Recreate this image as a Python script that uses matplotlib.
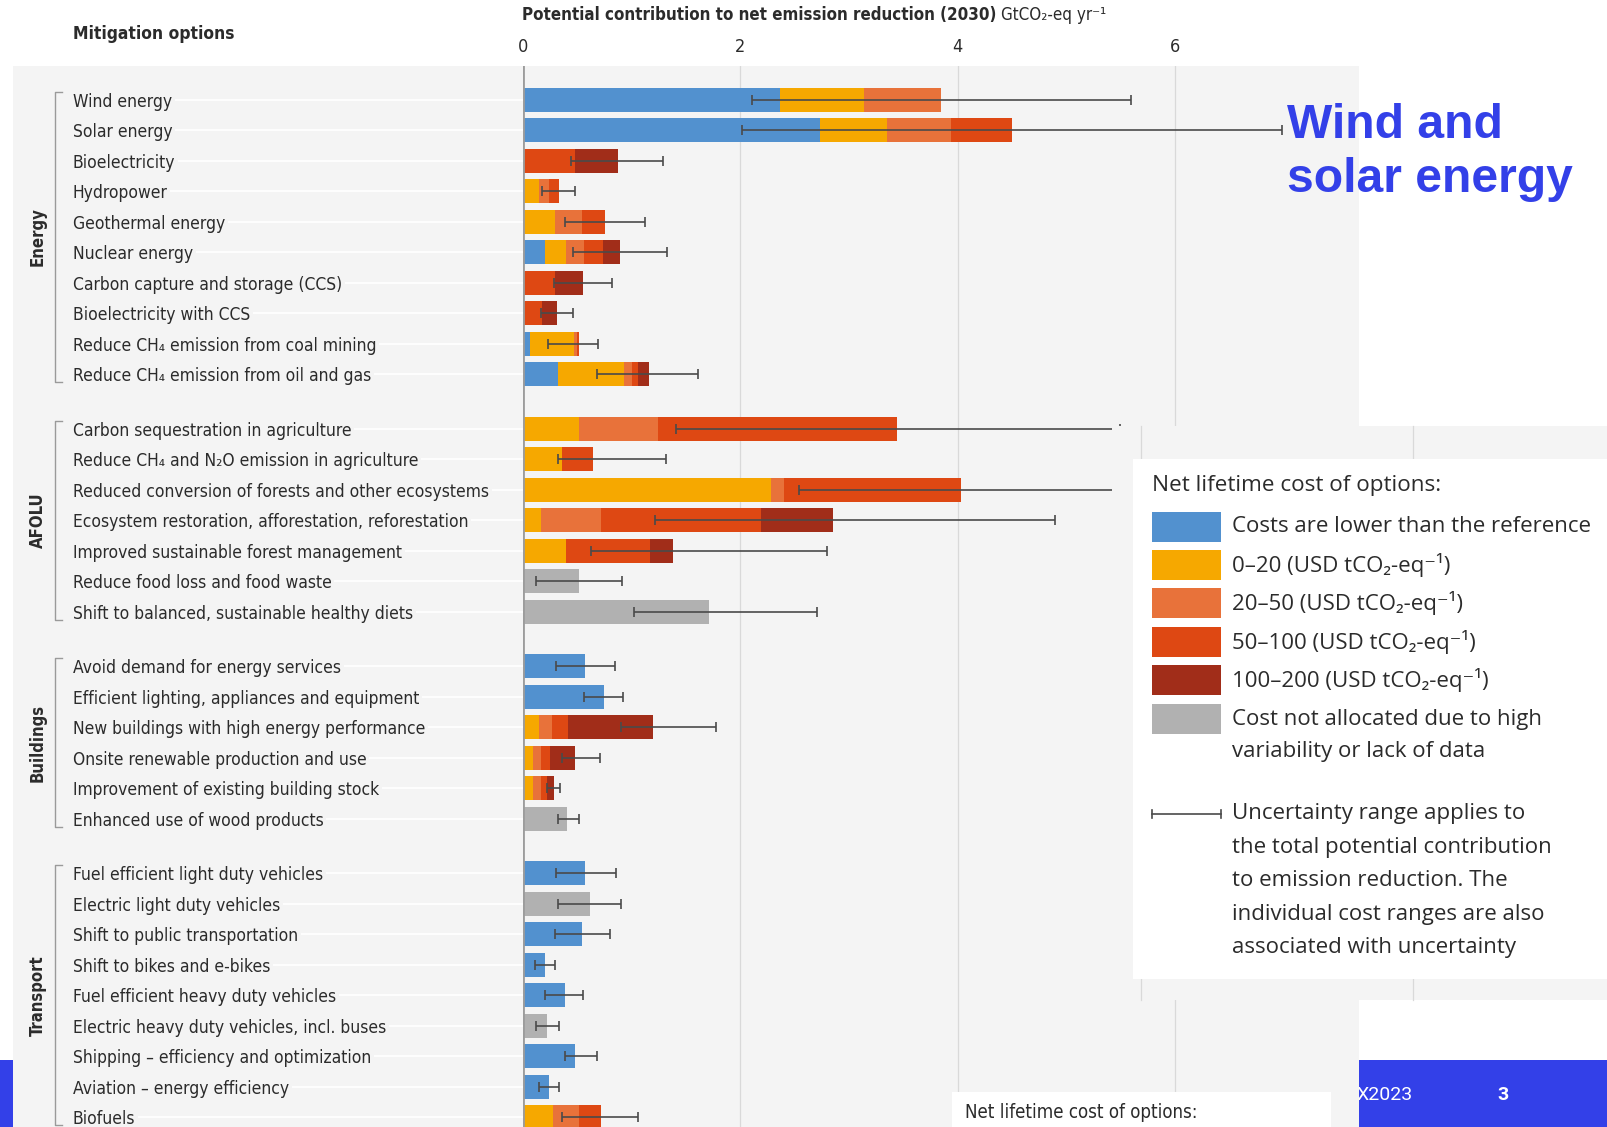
import numpy as np
import matplotlib
matplotlib.use('Agg')
import matplotlib.pyplot as plt
from matplotlib import font_manager as fm
from matplotlib.patches import Rectangle
from matplotlib.lines import Line2D

# ---- data: potential contribution to net emission reduction (2030), GtCO2-eq/yr ----
energy_labels = ['Wind energy', 'Solar energy', 'Bioelectricity', 'Hydropower',
                 'Geothermal energy', 'Nuclear energy', 'Carbon capture and storage (CCS)',
                 'Bioelectricity with CCS', 'Reduce CH\u2084 emission from coal mining',
                 'Reduce CH\u2084 emission from oil and gas']
afolu_labels = ['Carbon sequestration in agriculture',
                'Reduce CH\u2084 and N\u2082O emission in agriculture',
                'Reduced conversion of forests and other ecosystems',
                'Ecosystem restoration, afforestation, reforestation',
                'Improved sustainable forest management',
                'Reduce food loss and food waste',
                'Shift to balanced, sustainable healthy diets']
buildings_labels = ['Avoid demand for energy services',
                    'Efficient lighting, appliances and equipment',
                    'New buildings with high energy performance',
                    'Onsite renewable production and use',
                    'Improvement of existing building stock',
                    'Enhanced use of wood products']
transport_labels = ['Fuel efficient light duty vehicles', 'Electric light duty vehicles',
                    'Shift to public transportation', 'Shift to bikes and e-bikes',
                    'Fuel efficient heavy duty vehicles',
                    'Electric heavy duty vehicles, incl. buses',
                    'Shipping \u2013 efficiency and optimization',
                    'Aviation \u2013 energy efficiency', 'Biofuels']
group_names = ['Energy', 'AFOLU', 'Buildings', 'Transport']

# width of each cost band per option
lower_cost = [2.36, 2.73, 0, 0, 0, 0.20, 0, 0, 0.06, 0.32,
              0, 0, 0, 0, 0, 0, 0,
              0.57, 0.74, 0, 0, 0, 0,
              0.57, 0, 0.54, 0.20, 0.38, 0, 0.48, 0.24, 0]
usd_0_20 = [0.78, 0.62, 0, 0.14, 0.29, 0.19, 0, 0, 0.41, 0.61,
            0.51, 0.36, 2.28, 0.16, 0.39, 0, 0,
            0, 0, 0.14, 0.09, 0.09, 0,
            0, 0, 0, 0, 0, 0, 0, 0, 0.27]
usd_20_50 = [0.71, 0.59, 0, 0.10, 0.25, 0.17, 0, 0, 0.02, 0.07,
             0.73, 0, 0.12, 0.56, 0, 0, 0,
             0, 0, 0.12, 0.07, 0.07, 0,
             0, 0, 0, 0, 0, 0, 0, 0, 0.24]
usd_50_100 = [0, 0.56, 0.48, 0.09, 0.21, 0.17, 0.29, 0.17, 0.02, 0.06,
              2.20, 0.28, 1.63, 1.47, 0.78, 0, 0,
              0, 0, 0.15, 0.09, 0.06, 0,
              0, 0, 0, 0, 0, 0, 0, 0, 0.21]
usd_100_200 = [0, 0, 0.39, 0, 0, 0.16, 0.26, 0.14, 0, 0.10,
               0, 0, 0, 0.66, 0.21, 0, 0,
               0, 0, 0.78, 0.23, 0.06, 0,
               0, 0, 0, 0, 0, 0, 0, 0, 0]
not_allocated = [0, 0, 0, 0, 0, 0, 0, 0, 0, 0,
                 0, 0, 0, 0, 0, 0.51, 1.71,
                 0, 0, 0, 0, 0, 0.40,
                 0, 0.61, 0, 0, 0, 0.22, 0, 0, 0]
err_low = [2.11, 2.01, 0.44, 0.17, 0.38, 0.46, 0.28, 0.16, 0.23, 0.68,
           1.41, 0.32, 2.54, 1.21, 0.62, 0.12, 1.02,
           0.30, 0.56, 0.90, 0.36, 0.22, 0.32,
           0.30, 0.32, 0.29, 0.11, 0.20, 0.12, 0.38, 0.14, 0.36]
err_high = [5.60, 6.99, 1.29, 0.48, 1.12, 1.32, 0.82, 0.46, 0.69, 1.61,
            5.49, 1.31, 6.50, 4.90, 2.80, 0.91, 2.70,
            0.84, 0.92, 1.77, 0.71, 0.34, 0.51,
            0.85, 0.90, 0.80, 0.29, 0.55, 0.33, 0.68, 0.33, 1.06]

x_ticks = [0, 2, 4, 6]

band_colors = ['#5291cf', '#f6a800', '#e8723a', '#de4813', '#a12d19', '#b1b1b1']
legend_labels = ['Costs are lower than the reference',
                 '0\u201320 (USD tCO\u2082-eq\u207b\u00b9)',
                 '20\u201350 (USD tCO\u2082-eq\u207b\u00b9)',
                 '50\u2013100 (USD tCO\u2082-eq\u207b\u00b9)',
                 '100\u2013200 (USD tCO\u2082-eq\u207b\u00b9)',
                 'Cost not allocated due to high\nvariability or lack of data']
uncert_text = ['Uncertainty range applies to', 'the total potential contribution',
               'to emission reduction. The', 'individual cost ranges are also',
               'associated with uncertainty']

PANEL = '#f4f4f4'
GRID = '#d9d9d9'
TXT = '#2b2b2b'
BLUE = '#3340e8'

# fonts: a narrow face for the chart, a humanist one for the key
names = {f.name for f in fm.fontManager.ttflist}
if 'Liberation Sans Narrow' in names:
    NARROW = dict(family=['Liberation Sans Narrow', 'DejaVu Sans'])
    LAB = 14.5
else:
    NARROW = dict(family=['DejaVu Sans'], fontstretch='condensed')
    LAB = 12.5
KEY = dict(family=['Open Sans', 'DejaVu Sans'])

W, H = 1608, 1127
fig = plt.figure(figsize=(W / 100, H / 100), dpi=100)
fig.patch.set_facecolor('white')


def fx(x):
    return x / W


def fy(y):
    return 1 - y / H


def box(x0, y0, x1, y1, color, z):
    fig.add_artist(Rectangle((fx(x0), fy(y1)), (x1 - x0) / W, (y1 - y0) / H,
                             transform=fig.transFigure, facecolor=color,
                             edgecolor='none', zorder=z))


# slide footer and grey chart panel
box(0, 1060, W, H, BLUE, -3)
fig.text(fx(1356), fy(1095), 'X2023', color='white', family='Roboto', fontsize=14,
         va='center', ha='left', zorder=-2.5)
fig.text(fx(1503), fy(1095), '3', color='white', family='Roboto', fontsize=14,
         fontweight='bold', va='center', ha='center', zorder=-2.5)
box(13, 65.6, 1359, H, PANEL, -2)

# row positions with a gap between sectors
groups = [energy_labels, afolu_labels, buildings_labels, transport_labels]
pos = []
spans = []
start = 0.0
for g in groups:
    p = start + np.arange(len(g))
    pos.extend(p)
    spans.append((p[0], p[-1]))
    start = p[-1] + 1.8
pos = np.array(pos)
labels = sum(groups, [])

ROW = 30.45   # px per row
Y0 = 100.0    # px of first row
X0 = 523.3    # px of zero
UNIT = 108.6  # px per GtCO2-eq

ax = fig.add_axes([fx(X0), 0, (1359 - X0) / W, (H - 65.6) / H])
ax.patch.set_alpha(0)
ax.set_xlim(0, (1359 - X0) / UNIT)
ax.set_ylim((H - Y0) / ROW, (65.6 - Y0) / ROW)
for s in ax.spines.values():
    s.set_visible(False)

for v in x_ticks[1:]:
    ax.axvline(v, color=GRID, lw=0.9, zorder=0)
ax.axvline(0, color='#9c9c9c', lw=2.0, zorder=4)

bands = [lower_cost, usd_0_20, usd_20_50, usd_50_100, usd_100_200, not_allocated]
left = np.zeros(len(pos))
for vals, col in zip(bands, band_colors):
    vals = np.array(vals)
    ax.barh(pos, vals, left=left, height=0.79, color=col, linewidth=0, zorder=2)
    left = left + vals

lo = np.array(err_low)
hi = np.array(err_high)
ax.errorbar((lo + hi) / 2, pos, xerr=(hi - lo) / 2, fmt='none', ecolor='#4a4a4a',
            elinewidth=1.2, capsize=3.6, capthick=1.2, zorder=3)

# top tick labels
ax.xaxis.tick_top()
ax.set_xticks(x_ticks, [str(v) for v in x_ticks])
ax.tick_params(axis='x', length=0, pad=7, labelsize=13, labelcolor=TXT)
for t in ax.get_xticklabels():
    t.set(**NARROW)

# option labels as left-aligned y tick labels
ax.set_yticks(pos, labels)
ax.tick_params(axis='y', length=0, pad=(X0 - 72.8) * 0.72, labelsize=LAB, labelcolor=TXT)
for t in ax.get_yticklabels():
    t.set(ha='left', **NARROW)
    t.set_bbox(dict(facecolor=PANEL, edgecolor='none', pad=2))
ax.hlines(pos, (72 - X0) / UNIT, 0, colors='white', lw=1.3, clip_on=False, zorder=1)

# sector brackets
for name, (a, b) in zip(group_names, spans):
    top, bot = a - 0.27, b + 0.27
    ax.plot([(62 - X0) / UNIT, (55 - X0) / UNIT, (55 - X0) / UNIT, (62 - X0) / UNIT],
            [top, top, bot, bot], color='#9a9a9a', lw=1.0, clip_on=False, zorder=1)
    ax.text((38 - X0) / UNIT, (top + bot) / 2, name, rotation=90, ha='center',
            va='center', fontsize=12, fontweight='bold', color=TXT, **NARROW)

# headers
fig.text(fx(72.8), fy(33.8), 'Mitigation options', fontsize=12.5, fontweight='bold',
         color=TXT, va='center', ha='left', **NARROW)
t1 = fig.text(fx(522), fy(15.4), 'Potential contribution to net emission reduction (2030)',
              fontsize=12.2, fontweight='bold', color=TXT, va='center', ha='left', **NARROW)
r = fig.canvas.get_renderer()
bb = t1.get_window_extent(r)
fig.text(fx(bb.x1 + 5), fy(15.4), 'GtCO\u2082-eq yr\u207b\u00b9', fontsize=12.2, color=TXT,
         va='center', ha='left', **NARROW)

# big blue callout
fig.text(fx(1287), fy(138), 'Wind and', color=BLUE, family='Liberation Sans',
         fontweight='bold', fontsize=34.6, va='baseline', ha='left', zorder=9)
fig.text(fx(1287), fy(192), 'solar energy', color=BLUE, family='Liberation Sans',
         fontweight='bold', fontsize=34.6, va='baseline', ha='left', zorder=9)

# pasted key panel on the right
box(1112, 425.6, W, 1000, PANEL, 5)
for gx in [1141, 1413]:
    fig.add_artist(Line2D([fx(gx), fx(gx)], [fy(425.6), fy(1000)], transform=fig.transFigure,
                          color=GRID, lw=0.9, zorder=5.1))
box(1133, 459, W, 979, 'white', 6)

fig.text(fx(1151.6), fy(486), 'Net lifetime cost of options:', fontsize=16.2, color=TXT,
         va='center', ha='left', zorder=7, **KEY)
key_y = [527, 565, 603, 642, 680, 719]
for yy, col, lab in zip(key_y, band_colors, legend_labels):
    box(1151.6, yy - 15, 1221, yy + 15, col, 7)
    for i, line in enumerate(lab.split('\n')):
        fig.text(fx(1231.6), fy(yy + i * 33), line, fontsize=16, color=TXT,
                 va='center', ha='left', zorder=7, **KEY)

uy = 814
fig.add_artist(Line2D([fx(1151.6), fx(1221)], [fy(uy), fy(uy)], transform=fig.transFigure,
                      color='#4a4a4a', lw=1.2, zorder=7))
for ex in [1151.6, 1221]:
    fig.add_artist(Line2D([fx(ex), fx(ex)], [fy(uy - 4), fy(uy + 4)],
                          transform=fig.transFigure, color='#4a4a4a', lw=1.2, zorder=7))
for i, line in enumerate(uncert_text):
    fig.text(fx(1231.6), fy(uy + i * 33.5), line, fontsize=16, color=TXT,
             va='center', ha='left', zorder=7, **KEY)

# second key heading peeking in at the bottom
box(952, 1092, 1331, H, 'white', 6)
fig.text(fx(965), fy(1112), 'Net lifetime cost of options:', fontsize=13.4, color=TXT,
         va='center', ha='left', zorder=7, **NARROW)

fig.savefig('out.png', dpi=100, facecolor='white')
